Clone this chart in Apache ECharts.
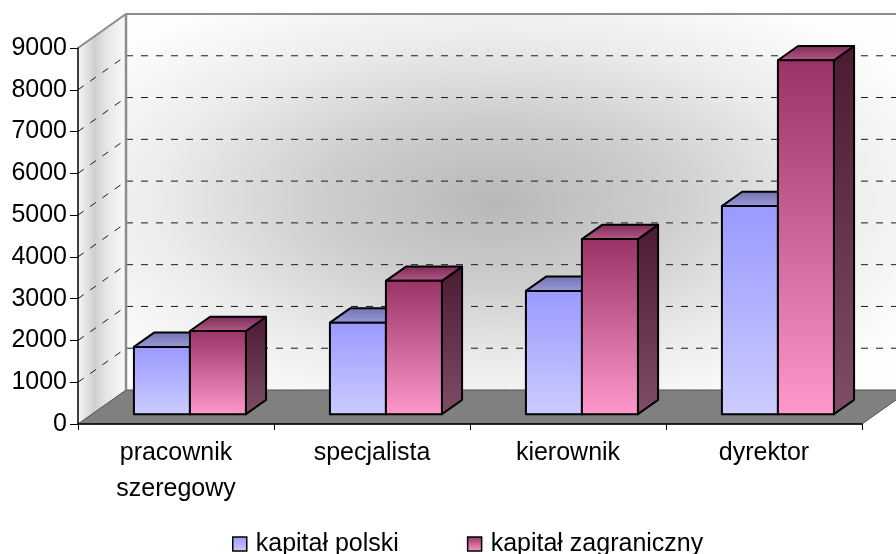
<!DOCTYPE html>
<html>
<head>
<meta charset="utf-8">
<script src="https://cdn.jsdelivr.net/npm/echarts@6/dist/echarts.min.js"></script>
<style>
  html, body { margin: 0; padding: 0; background: #ffffff; }
  #chart { width: 896px; height: 554px; }
</style>
</head>
<body>
<div id="chart"></div>
<script>
// Categories and values (average salaries by position and capital origin)
const categories = ['pracownik szeregowy', 'specjalista', 'kierownik', 'dyrektor'];
const seriesNames = ['kapitał polski', 'kapitał zagraniczny'];
const kapitalPolski = [1610, 2190, 2950, 4980];
const kapitalZagraniczny = [1990, 3190, 4190, 8470];
const yMin = 0;
const yMax = 9000;
const yStep = 1000;

// 3D projection: how far the back plane is shifted from the front plane (px)
const DEPTH_X = 48;
const DEPTH_Y = -34;
// Bars sit in the middle part of the depth
const BAR_FRONT = 0.29;
const BAR_BACK = 0.71;
// Excel-like gap width of 150% (gap = 1.5 bar widths)
const GAP_RATIO = 1.5;

const FONT = '"Liberation Sans", Arial, sans-serif';
const FONT_SIZE = 25;

function shift(pt, d) {
  return [pt[0] + DEPTH_X * d, pt[1] + DEPTH_Y * d];
}

const barStyles = [
  {
    front: ['#9999ff', '#ccccff'],
    top: ['#7373b3', '#9a9ad6'],
    side: ['#4d4d80', '#66668c']
  },
  {
    front: ['#993366', '#ff99cc'],
    top: ['#7a2a55', '#b85a8a'],
    side: ['#4d1a33', '#804d66']
  }
];

function vGrad(c0, c1) {
  return { type: 'linear', x: 0, y: 0, x2: 0, y2: 1,
    colorStops: [{ offset: 0, color: c0 }, { offset: 1, color: c1 }] };
}

function makeBarRenderer(slot) {
  return function (params, api) {
    const idx = api.value(0);
    const val = api.value(1);
    const center = api.coord([idx, 0]);
    const band = api.size([1, 0])[0];
    const bw = band / (2 + GAP_RATIO);
    const x0 = center[0] - bw + slot * bw;
    const x1 = x0 + bw;
    const yBot = center[1];
    const yTop = api.coord([idx, val])[1];
    const f = BAR_FRONT, b = BAR_BACK;
    const st = barStyles[slot];
    const stroke = { stroke: '#000000', lineWidth: 2, lineJoin: 'round' };
    const front = [shift([x0, yTop], f), shift([x1, yTop], f), shift([x1, yBot], f), shift([x0, yBot], f)];
    const top = [shift([x0, yTop], f), shift([x1, yTop], f), shift([x1, yTop], b), shift([x0, yTop], b)];
    const side = [shift([x1, yTop], f), shift([x1, yTop], b), shift([x1, yBot], b), shift([x1, yBot], f)];
    return {
      type: 'group',
      children: [
        { type: 'polygon', shape: { points: side },
          style: Object.assign({ fill: vGrad(st.side[0], st.side[1]) }, stroke) },
        { type: 'polygon', shape: { points: top },
          style: Object.assign({ fill: vGrad(st.top[0], st.top[1]) }, stroke) },
        { type: 'polygon', shape: { points: front },
          style: Object.assign({ fill: vGrad(st.front[0], st.front[1]) }, stroke) }
      ]
    };
  };
}

function renderWalls(params, api) {
  const cs = params.coordSys;
  const gx = cs.x, gy = cs.y, gw = cs.width, gh = cs.height;
  const bx = gx + DEPTH_X, by = gy + DEPTH_Y;
  const children = [];
  // back wall with a soft grey haze in the middle
  children.push({
    type: 'rect',
    x: bx, y: by, scaleX: gw / gh,
    shape: { x: 0, y: 0, width: gh, height: gh },
    style: {
      fill: {
        type: 'radial', x: 0.47, y: 0.5, r: 0.62,
        colorStops: [
          { offset: 0, color: '#b8b8b8' },
          { offset: 0.35, color: '#cdcdcd' },
          { offset: 0.7, color: '#ececec' },
          { offset: 1, color: '#fdfdfd' }
        ]
      }
    },
    silent: true
  });
  // left side wall
  children.push({
    type: 'polygon',
    shape: { points: [[gx, gy], [bx, by], [bx, by + gh], [gx, gy + gh]] },
    style: {
      fill: {
        type: 'linear', x: 0, y: 0, x2: 1, y2: 0,
        colorStops: [
          { offset: 0, color: '#f6f6f6' },
          { offset: 0.35, color: '#cfcfcf' },
          { offset: 0.6, color: '#e6e6e6' },
          { offset: 1, color: '#fafafa' }
        ]
      }
    },
    silent: true
  });
  // floor
  children.push({
    type: 'polygon',
    shape: { points: [[gx, gy + gh], [gx + gw, gy + gh], [bx + gw, by + gh], [bx, by + gh]] },
    style: { fill: '#808080', stroke: '#505050', lineWidth: 1 },
    silent: true
  });
  // dashed gridlines on back and side walls
  for (let v = yMin + yStep; v < yMax; v += yStep) {
    const y = api.coord([0, v])[1];
    children.push({
      type: 'line',
      shape: { x1: bx, y1: y + DEPTH_Y, x2: bx + gw, y2: y + DEPTH_Y },
      style: { stroke: '#1a1a1a', lineWidth: 1, lineDash: [7, 8] },
      silent: true
    });
    children.push({
      type: 'line',
      shape: { x1: gx, y1: y, x2: bx, y2: y + DEPTH_Y },
      style: { stroke: '#1a1a1a', lineWidth: 1, lineDash: [7, 8] },
      silent: true
    });
  }
  // wall edges
  children.push({
    type: 'polyline',
    shape: { points: [[gx, gy], [bx, by], [bx + gw, by]] },
    style: { stroke: '#8c8c8c', lineWidth: 2, fill: null },
    silent: true
  });
  children.push({
    type: 'line',
    shape: { x1: bx, y1: by, x2: bx, y2: by + gh },
    style: { stroke: '#8c8c8c', lineWidth: 2.5 },
    silent: true
  });
  return { type: 'group', children: children };
}

const chart = echarts.init(document.getElementById('chart'), null, { renderer: 'canvas' });

chart.setOption({
  animation: false,
  backgroundColor: '#ffffff',
  textStyle: { fontFamily: FONT },
  grid: { left: 78, right: 34, top: 48, bottom: 130 },
  legend: {
    left: 232,
    top: 530,
    padding: 0,
    icon: 'rect',
    itemWidth: 14,
    itemHeight: 14,
    itemGap: 68,
    textStyle: { fontSize: FONT_SIZE, lineHeight: 28, color: '#000000', fontFamily: FONT, padding: [0, 0, 0, 4] },
    data: [
      { name: seriesNames[0], itemStyle: { color: vGrad('#9999ff', '#ccccff'), borderColor: '#000', borderWidth: 1.5 } },
      { name: seriesNames[1], itemStyle: { color: vGrad('#993366', '#ff99cc'), borderColor: '#000', borderWidth: 1.5 } }
    ]
  },
  xAxis: {
    type: 'category',
    data: categories,
    axisLine: { show: true, lineStyle: { color: '#000000', width: 1.5 } },
    axisTick: { show: true, length: 6, lineStyle: { color: '#000000' } },
    axisLabel: {
      fontSize: FONT_SIZE, color: '#000000', fontFamily: FONT, margin: 11, lineHeight: 36,
      formatter: function (s) { return s.replace(' ', '\n'); }
    },
    splitLine: { show: false },
    z: 5
  },
  yAxis: {
    type: 'value',
    min: yMin,
    max: yMax,
    interval: yStep,
    axisLine: { show: true, lineStyle: { color: '#000000', width: 1.5 } },
    axisTick: { show: true, length: 8, lineStyle: { color: '#000000' } },
    axisLabel: {
      fontSize: FONT_SIZE, color: '#000000', fontFamily: FONT, margin: 11,
      formatter: function (v) { return String(v); }
    },
    splitLine: { show: false },
    z: 5
  },
  series: [
    {
      type: 'custom',
      name: 'walls',
      silent: true,
      z: 0,
      renderItem: renderWalls,
      data: [[0, 0]]
    },
    {
      type: 'custom',
      name: seriesNames[0],
      z: 2,
      itemStyle: { color: '#9999ff' },
      renderItem: makeBarRenderer(0),
      encode: { x: 0, y: 1 },
      data: kapitalPolski.map(function (v, i) { return [i, v]; })
    },
    {
      type: 'custom',
      name: seriesNames[1],
      z: 3,
      itemStyle: { color: '#993366' },
      renderItem: makeBarRenderer(1),
      encode: { x: 0, y: 1 },
      data: kapitalZagraniczny.map(function (v, i) { return [i, v]; })
    }
  ]
});
</script>
</body>
</html>
